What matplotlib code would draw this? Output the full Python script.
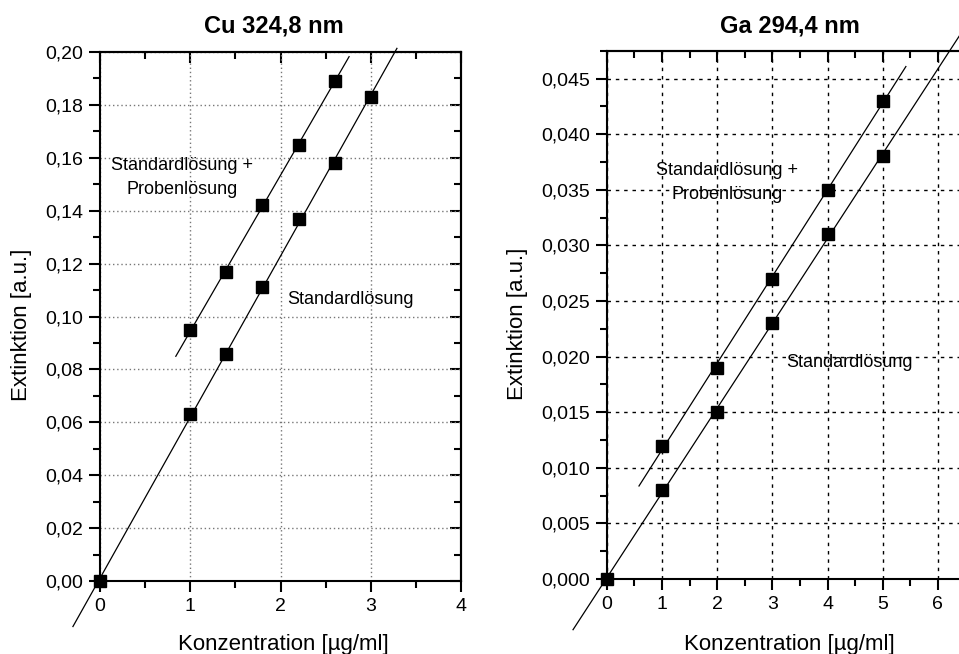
import numpy as np
import matplotlib
matplotlib.use("Agg")
import matplotlib.pyplot as plt
from matplotlib.ticker import MultipleLocator, FuncFormatter

plt.rcParams['font.family'] = ['Liberation Sans', 'DejaVu Sans']

# Cu 324,8 nm
cu_std_x = [0, 1, 1.4, 1.8, 2.2, 2.6, 3.0]
cu_std_y = [0, 0.063, 0.086, 0.111, 0.137, 0.158, 0.183]
cu_add_x = [1, 1.4, 1.8, 2.2, 2.6]
cu_add_y = [0.095, 0.117, 0.142, 0.165, 0.189]

# Ga 294,4 nm
ga_std_x = [0, 1, 2, 3, 4, 5]
ga_std_y = [0, 0.008, 0.015, 0.023, 0.031, 0.038]
ga_add_x = [1, 2, 3, 4, 5]
ga_add_y = [0.012, 0.019, 0.027, 0.035, 0.043]

W, H = 959, 654
fig = plt.figure(figsize=(W / 100, H / 100), dpi=100)


def px_axes(x0, y0, x1, y1):
    # axes rectangle from pixel corners (top-left origin)
    return fig.add_axes([x0 / W, 1 - y1 / H, (x1 - x0) / W, (y1 - y0) / H])


def comma_fmt(nd):
    return FuncFormatter(lambda v, p: ('{:.%df}' % nd).format(v).replace('.', ','))


def fit_line(ax, x, y, xa, xb):
    k, d = np.polyfit(x, y, 1)
    xs = np.array([xa, xb])
    ax.plot(xs, k * xs + d, color='black', lw=0.9, clip_on=False, zorder=3)


def style(ax, xmaj, xmin, ymaj, ymin, nd, grid_color, grid_ls, xlast):
    ax.xaxis.set_major_locator(MultipleLocator(xmaj))
    ax.xaxis.set_minor_locator(MultipleLocator(xmin))
    ax.xaxis.set_major_formatter(FuncFormatter(
        lambda v, p: '%d' % round(v) if v <= xlast + 1e-9 else ''))
    ax.yaxis.set_major_locator(MultipleLocator(ymaj))
    ax.yaxis.set_minor_locator(MultipleLocator(ymin))
    ax.yaxis.set_major_formatter(comma_fmt(nd))
    ax.tick_params(which='major', direction='out', length=8, width=1.5,
                   labelsize=14, pad=4)
    ax.tick_params(which='minor', direction='out', length=5, width=1.5)
    for s in ax.spines.values():
        s.set_linewidth(1.5)
    ax.grid(True, which='major', color=grid_color, linestyle=grid_ls, lw=1)
    ax.set_axisbelow(True)
    # inward ticks on the mirrored sides
    top = ax.secondary_xaxis('top')
    top.xaxis.set_major_locator(MultipleLocator(xmaj))
    top.xaxis.set_minor_locator(MultipleLocator(xmin))
    top.tick_params(which='major', direction='in', length=8, width=1.5, labeltop=False)
    top.tick_params(which='minor', direction='in', length=5, width=1.5)
    right = ax.secondary_yaxis('right')
    right.yaxis.set_major_locator(MultipleLocator(ymaj))
    right.yaxis.set_minor_locator(MultipleLocator(ymin))
    right.tick_params(which='major', direction='in', length=8, width=1.5, labelright=False)
    right.tick_params(which='minor', direction='in', length=5, width=1.5)
    for sec in (top, right):
        for s in sec.spines.values():
            s.set_linewidth(1.5)


# left panel
ax1 = px_axes(100, 52, 461, 581)
ax1.set_xlim(0, 4)
ax1.set_ylim(0, 0.20)
style(ax1, 1, 0.5, 0.02, 0.01, 2, '#777777', (0, (1, 2)), 4)
fit_line(ax1, cu_std_x, cu_std_y, -0.30, 3.29)
fit_line(ax1, cu_add_x, cu_add_y, 0.84, 2.76)
ax1.plot(cu_std_x, cu_std_y, 's', color='black', ms=9, clip_on=False, zorder=4)
ax1.plot(cu_add_x, cu_add_y, 's', color='black', ms=9, clip_on=False, zorder=4)
ax1.text(0.91, 0.1526, 'Standardlösung +\nProbenlösung', ha='center', va='center',
         fontsize=13, linespacing=1.55)
ax1.text(2.07, 0.1066, 'Standardlösung', ha='left', va='center', fontsize=13)

# right panel (runs past the right edge of the figure)
ax2 = px_axes(606.7, 50.7, 606.7 + 7 * 55.2, 579)
ax2.set_xlim(0, 7)
ax2.set_ylim(0, 0.0475)
style(ax2, 1, 0.5, 0.005, 0.0025, 3, 'black', (0, (2.5, 3.5)), 6)
fit_line(ax2, ga_std_x, ga_std_y, -0.61, 6.7)
fit_line(ax2, ga_add_x, ga_add_y, 0.585, 5.42)
ax2.plot(ga_std_x, ga_std_y, 's', color='black', ms=9, clip_on=False, zorder=4)
ax2.plot(ga_add_x, ga_add_y, 's', color='black', ms=9, clip_on=False, zorder=4)
ax2.text(2.18, 0.03566, 'Standardlösung +\nProbenlösung', ha='center', va='center',
         fontsize=13, linespacing=1.55)
ax2.text(3.26, 0.0195, 'Standardlösung', ha='left', va='center', fontsize=13)

# titles and axis labels
fig.text(273.7 / W, 1 - 33 / H, 'Cu 324,8 nm', ha='center', va='baseline',
         fontsize=17, fontweight='bold')
fig.text(789.5 / W, 1 - 32 / H, 'Ga 294,4 nm', ha='center', va='baseline',
         fontsize=17, fontweight='bold')
fig.text(283 / W, 1 - 650 / H, 'Konzentration [µg/ml]', ha='center', va='baseline',
         fontsize=16)
fig.text(789 / W, 1 - 650 / H, 'Konzentration [µg/ml]', ha='center', va='baseline',
         fontsize=16)
fig.text(22 / W, 1 - 325 / H, 'Extinktion [a.u.]', rotation=90, ha='center',
         va='center', fontsize=16)
fig.text(517 / W, 1 - 324 / H, 'Extinktion [a.u.]', rotation=90, ha='center',
         va='center', fontsize=16)

fig.savefig('out.png', dpi=100)
